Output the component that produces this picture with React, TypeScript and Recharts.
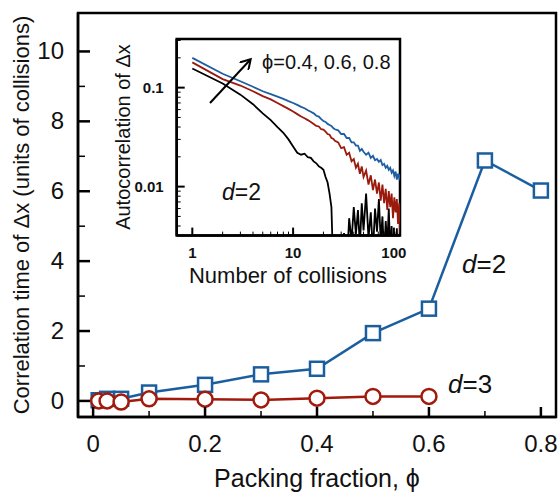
import React from "react";
import { LineChart, Line, XAxis, YAxis, ReferenceArea } from "recharts";

// ---------- main chart data ----------
const phi2 = [0.01, 0.025, 0.05, 0.1, 0.2, 0.3, 0.4, 0.5, 0.6, 0.7, 0.8];
const tau2 = [0.02, 0.06, 0.06, 0.24, 0.46, 0.76, 0.92, 1.94, 2.64, 6.88, 6.02];
const phi3 = [0.01, 0.025, 0.05, 0.1, 0.2, 0.3, 0.4, 0.5, 0.6];
const tau3 = [0.0, 0.0, -0.03, 0.06, 0.05, 0.03, 0.08, 0.13, 0.13];
const mainXTicks = [0, 0.1, 0.2, 0.3, 0.4, 0.5, 0.6, 0.7, 0.8];
const mainYTicks = [0, 1, 2, 3, 4, 5, 6, 7, 8, 9, 10];

// ---------- inset data ----------
const collisions = [1, 2, 3, 4, 5, 6, 7, 8, 9, 10, 11, 12, 13, 14, 15, 16, 17, 18, 19, 20, 21, 22, 23, 24, 25, 26, 28, 30, 32, 34, 36, 38, 40, 42, 44, 46, 48, 50, 53, 56, 59, 62, 65, 68, 71, 74, 77, 80, 83, 86, 89, 92, 95, 98, 101, 104, 107, 110, 113, 116, 120];
const acf08 = [0.2, 0.138, 0.116, 0.102, 0.092, 0.086, 0.081, 0.077, 0.073, 0.07, 0.067, 0.064, 0.062, 0.059, 0.057, 0.055, 0.052, 0.051, 0.048, 0.046, 0.045, 0.043, 0.042, 0.041, 0.039, 0.038, 0.037, 0.034, 0.034, 0.031, 0.031, 0.028, 0.028, 0.026, 0.026, 0.023, 0.024, 0.0225, 0.021, 0.022, 0.0195, 0.0205, 0.0185, 0.019, 0.0178, 0.0186, 0.0165, 0.017, 0.0155, 0.0162, 0.0148, 0.0155, 0.0138, 0.0146, 0.0128, 0.0142, 0.0118, 0.0135, 0.0122, 0.0132, 0.0125];
const acf06 = [0.18, 0.122, 0.105, 0.092, 0.082, 0.076, 0.07, 0.065, 0.061, 0.0575, 0.054, 0.051, 0.049, 0.047, 0.045, 0.043, 0.041, 0.0405, 0.038, 0.0376, 0.036, 0.034, 0.0335, 0.031, 0.0305, 0.029, 0.028, 0.0245, 0.025, 0.021, 0.022, 0.018, 0.019, 0.0155, 0.017, 0.0135, 0.016, 0.0125, 0.0145, 0.0105, 0.013, 0.0092, 0.0118, 0.0085, 0.011, 0.0072, 0.0105, 0.0068, 0.0095, 0.0058, 0.009, 0.0062, 0.0085, 0.0048, 0.0078, 0.0055, 0.0075, 0.0042, 0.0068, 0.0035, 0.0028];
const acf04 = [0.156, 0.11, 0.085, 0.068, 0.055, 0.047, 0.04, 0.035, 0.03, 0.0254, 0.022, 0.021, 0.0215, 0.0198, 0.0195, 0.018, 0.0172, 0.016, 0.0155, 0.0148, 0.0125, 0.011, 0.0085, 0.0062, 0.0015, 0.0015, 0.0015, 0.0015, 0.0034, 0.0015, 0.0048, 0.0028, 0.0062, 0.0033, 0.0058, 0.0025, 0.0068, 0.0036, 0.0085, 0.003, 0.0055, 0.0022, 0.006, 0.0035, 0.0075, 0.0028, 0.005, 0.002, 0.0045, 0.0025, 0.006, 0.0022, 0.004, 0.0015, 0.0035, 0.0018, 0.0038, 0.0015, 0.003, 0.0015, 0.0015];
const insetXTicks = [1, 2, 3, 4, 5, 6, 7, 8, 9, 10, 20, 30, 40, 50, 60, 70, 80, 90, 100];
const insetYTicks = [0.004, 0.005, 0.006, 0.007, 0.008, 0.009, 0.01, 0.02, 0.03, 0.04, 0.05, 0.06, 0.07, 0.08, 0.09, 0.1, 0.2, 0.3];
const insetXLabels = [1, 10, 100];
const insetYLabels = [0.01, 0.1];

const BLUE = "#1b5e9e";
const RED = "#a11a0c";
const FONT = "'Liberation Sans', Arial, Helvetica, sans-serif";

const MAIN_X = [-0.027, 0.827];
const MAIN_Y = [-0.46, 11.1];
const INS_X = [0.7, 115];
const INS_Y = [0.0032, 0.31];

const mainData = phi2.map((p, i) => {
  const j = phi3.indexOf(p);
  return { phi: p, d2: tau2[i], d3: j >= 0 ? tau3[j] : undefined };
});

const insetData = collisions.map((c, i) => ({
  n: c,
  a08: acf08[i],
  a06: acf06[i],
  a04: acf04[i],
}));

const MainXTick = (props: any) => {
  const { x, y, payload } = props;
  const v = payload.value;
  const major = Math.round(v * 10) % 2 === 0;
  return (
    <g>
      <line x1={x} x2={x} y1={y} y2={y - (major ? 10 : 6)} stroke="#000" strokeWidth={major ? 2.5 : 1.5} />
      {major && (
        <text x={x} y={y + 35} textAnchor="middle" fontSize={24} fontFamily={FONT} fill="#111">
          {v === 0 ? "0" : v.toFixed(1)}
        </text>
      )}
    </g>
  );
};

const MainYTick = (props: any) => {
  const { x, y, payload } = props;
  const v = payload.value;
  const major = v % 2 === 0;
  return (
    <g>
      <line x1={x} x2={x + (major ? 12 : 7)} y1={y} y2={y} stroke="#000" strokeWidth={major ? 2.5 : 1.5} />
      {major && (
        <text x={x - 14} y={y + 8} textAnchor="end" fontSize={24} fontFamily={FONT} fill="#111">
          {String(v)}
        </text>
      )}
    </g>
  );
};

const InsetXTick = (props: any) => {
  const { x, y, payload } = props;
  const v = payload.value;
  const major = insetXLabels.includes(v);
  return (
    <g>
      <line x1={x} x2={x} y1={y} y2={y - (major ? 8 : 4)} stroke="#000" strokeWidth={major ? 2 : 1} />
      {major && (
        <text x={x} y={y + 22} textAnchor="middle" fontSize={15} fontWeight="bold" fontFamily={FONT} fill="#111">
          {String(v)}
        </text>
      )}
    </g>
  );
};

const InsetYTick = (props: any) => {
  const { x, y, payload } = props;
  const v = payload.value;
  const major = insetYLabels.includes(v);
  return (
    <g>
      <line x1={x} x2={x + (major ? 8 : 4)} y1={y} y2={y} stroke="#000" strokeWidth={major ? 2 : 1} />
      {major && (
        <text x={x - 13} y={y + 5} textAnchor="end" fontSize={15} fontWeight="bold" fontFamily={FONT} fill="#111">
          {String(v)}
        </text>
      )}
    </g>
  );
};

const SquareDot = (props: any) => {
  const { cx, cy, index } = props;
  if (cx == null || cy == null) return <g key={index} />;
  return <rect key={index} x={cx - 7} y={cy - 7} width={14} height={14} fill="#fff" stroke={BLUE} strokeWidth={2.5} />;
};

const CircleDot = (props: any) => {
  const { cx, cy, index } = props;
  if (cx == null || cy == null) return <g key={index} />;
  return <circle key={index} cx={cx} cy={cy} r={7.5} fill="#fff" stroke={RED} strokeWidth={2.5} />;
};

const frameLine = { stroke: "#000", strokeWidth: 2.5 };

export default function App() {
  return (
    <div style={{ position: "absolute", left: 0, top: 0, width: 558, height: 492, background: "#fff", fontFamily: FONT }}>
      <div style={{ position: "absolute", left: 0, top: 0 }}>
        <LineChart width={558} height={492} data={mainData} margin={{ top: 13, right: 2, bottom: 0, left: 8 }}>
          <XAxis
            xAxisId="b"
            dataKey="phi"
            type="number"
            domain={MAIN_X}
            allowDataOverflow
            ticks={mainXTicks}
            interval={0}
            tick={(p: any) => <MainXTick {...p} />}
            tickLine={false}
            tickSize={0}
            tickMargin={0}
            height={75}
            axisLine={frameLine}
          />
          <YAxis
            yAxisId="l"
            type="number"
            domain={MAIN_Y}
            allowDataOverflow
            ticks={mainYTicks}
            interval={0}
            tick={(p: any) => <MainYTick {...p} />}
            tickLine={false}
            tickSize={0}
            tickMargin={0}
            width={70}
            axisLine={frameLine}
          />
          <ReferenceArea xAxisId="b" yAxisId="l" x1={MAIN_X[0]} x2={MAIN_X[1]} y1={MAIN_Y[0]} y2={MAIN_Y[1]} fill="none" fillOpacity={0} stroke="#000" strokeWidth={2.5} strokeOpacity={1} ifOverflow="visible" />
          <Line xAxisId="b" yAxisId="l" dataKey="d2" stroke={BLUE} strokeWidth={2.5} dot={(p: any) => <SquareDot {...p} />} isAnimationActive={false} />
          <Line xAxisId="b" yAxisId="l" dataKey="d3" stroke={RED} strokeWidth={2.5} dot={(p: any) => <CircleDot {...p} />} isAnimationActive={false} />
        </LineChart>
      </div>
      <div style={{ position: "absolute", left: 100, top: 20 }}>
        <LineChart width={310} height={270} data={insetData} margin={{ top: 19, right: 10, bottom: 0, left: 16.7 }}>
          <XAxis
            xAxisId="b"
            dataKey="n"
            type="number"
            scale="log"
            domain={INS_X}
            allowDataOverflow
            ticks={insetXTicks}
            interval={0}
            tick={(p: any) => <InsetXTick {...p} />}
            tickLine={false}
            tickSize={0}
            tickMargin={0}
            height={54.4}
            axisLine={frameLine}
          />
          <YAxis
            yAxisId="l"
            type="number"
            scale="log"
            domain={INS_Y}
            allowDataOverflow
            ticks={insetYTicks}
            interval={0}
            tick={(p: any) => <InsetYTick {...p} />}
            tickLine={false}
            tickSize={0}
            tickMargin={0}
            width={60}
            axisLine={frameLine}
          />
          <ReferenceArea xAxisId="b" yAxisId="l" x1={INS_X[0]} x2={INS_X[1]} y1={INS_Y[0]} y2={INS_Y[1]} fill="none" fillOpacity={0} stroke="#000" strokeWidth={2.5} strokeOpacity={1} ifOverflow="visible" />
          <Line xAxisId="b" yAxisId="l" dataKey="a04" stroke="#000" strokeWidth={1.8} dot={false} isAnimationActive={false} />
          <Line xAxisId="b" yAxisId="l" dataKey="a06" stroke="#9a1a0e" strokeWidth={1.8} dot={false} isAnimationActive={false} />
          <Line xAxisId="b" yAxisId="l" dataKey="a08" stroke="#1d5fa0" strokeWidth={1.8} dot={false} isAnimationActive={false} />
        </LineChart>
      </div>
      <svg width={558} height={492} style={{ position: "absolute", left: 0, top: 0, pointerEvents: "none" }}>
        <defs>
          <marker id="arrowhead" markerWidth="12" markerHeight="12" refX="9" refY="6" orient="auto" markerUnits="userSpaceOnUse">
            <path d="M0,0 L10,6 L0,12" fill="none" stroke="#000" strokeWidth={2} />
          </marker>
        </defs>
        <text transform="translate(29,215) rotate(-90)" textAnchor="middle" fontSize={22} fontFamily={FONT} fill="#111">
          Correlation time of Δx (units of collisions)
        </text>
        <text x={317} y={487} textAnchor="middle" fontSize={25} fontFamily={FONT} fill="#111">
          Packing fraction, ϕ
        </text>
        <text x={462} y={273} fontSize={26} fontFamily={FONT} fill="#111">
          <tspan fontStyle="italic">d</tspan>=2
        </text>
        <text x={448} y={393} fontSize={26} fontFamily={FONT} fill="#111">
          <tspan fontStyle="italic">d</tspan>=3
        </text>
        <text transform="translate(130,137) rotate(-90)" textAnchor="middle" fontSize={20} fontFamily={FONT} fill="#111">
          Autocorrelation of Δx
        </text>
        <text x={288} y={283} textAnchor="middle" fontSize={22} fontFamily={FONT} fill="#111">
          Number of collisions
        </text>
        <text x={262} y={69} fontSize={20} fontFamily={FONT} fill="#111">
          ϕ=0.4, 0.6, 0.8
        </text>
        <text x={222} y={200} fontSize={23} fontFamily={FONT} fill="#111">
          <tspan fontStyle="italic">d</tspan>=2
        </text>
        <line x1={210} y1={103} x2={250} y2={60} stroke="#000" strokeWidth={2} markerEnd="url(#arrowhead)" />
      </svg>
    </div>
  );
}
